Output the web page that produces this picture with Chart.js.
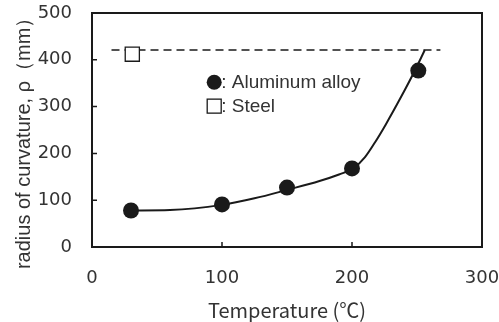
<!DOCTYPE html>
<html>
<head>
<meta charset="utf-8">
<script src="https://cdn.jsdelivr.net/npm/chart.js@4"></script>
<style>
  html, body { margin: 0; padding: 0; background: #fff; }
  #wrap { width: 499px; height: 322px; }
</style>
</head>
<body>
<div id="wrap"><canvas id="chart"></canvas></div>
<script>
// --- data ---
const alloyTemp = [30, 100, 150, 200, 251];
const alloyRadius = [78, 91, 127, 168, 377];

const steelTemp = [31];
const steelRadius = [412];

// hand-drawn fit curve through the alloy points
const curveTemp = [30, 60, 100, 125, 150, 175, 190, 201, 210, 218, 226, 238, 248, 256];
const curveRadius = [78, 79, 90, 104, 122, 141, 155, 168, 192, 225, 262, 322, 375, 421];

// dashed steel level
const steelLineTemp = [15, 268];
const steelLineRadius = [421, 421];

const xTicks = [0, 100, 200, 300];
const yTicks = [0, 100, 200, 300, 400, 500];

const ink = '#1a1a1a';
const textColor = '#333';

const pts = (xs, ys) => xs.map((x, i) => ({ x: x, y: ys[i] }));

// no extra room for overhanging tick labels, the box sits where the layout says
const noPad = (s) => {
  s.paddingLeft = 0; s.paddingRight = 0; s.paddingTop = 0; s.paddingBottom = 0;
};

// frame + inward tick marks + legend text
const framePlugin = {
  id: 'frame',
  afterDraw(chart) {
    const ctx = chart.ctx;
    const a = chart.chartArea;
    const xs = chart.scales.x, ys = chart.scales.y;
    ctx.save();
    ctx.strokeStyle = ink;
    ctx.lineWidth = 2;
    ctx.strokeRect(a.left, a.top, a.right - a.left, a.bottom - a.top);

    ctx.lineWidth = 1.5;
    ctx.beginPath();
    xTicks.slice(1, -1).forEach(v => {
      const px = xs.getPixelForValue(v);
      ctx.moveTo(px, a.bottom);
      ctx.lineTo(px, a.bottom - 5);
    });
    yTicks.slice(1, -1).forEach(v => {
      const py = ys.getPixelForValue(v);
      ctx.moveTo(a.left, py);
      ctx.lineTo(a.left + 5, py);
    });
    ctx.stroke();

    // legend
    const lx = xs.getPixelForValue(94);
    const ly1 = ys.getPixelForValue(352);
    const ly2 = ys.getPixelForValue(301);
    ctx.fillStyle = ink;
    ctx.beginPath();
    ctx.arc(lx, ly1, 7.5, 0, Math.PI * 2);
    ctx.fill();
    ctx.fillStyle = '#fff';
    ctx.lineWidth = 1.3;
    ctx.fillRect(lx - 7, ly2 - 7, 14, 14);
    ctx.strokeRect(lx - 7, ly2 - 7, 14, 14);

    ctx.fillStyle = textColor;
    ctx.font = '19px "Liberation Sans", Arial, sans-serif';
    ctx.textBaseline = 'middle';
    ctx.fillText(': Aluminum alloy', lx + 7, ly1 + 1);
    ctx.fillText(': Steel', lx + 7, ly2 + 1);
    ctx.restore();
  }
};

new Chart(document.getElementById('chart'), {
  type: 'scatter',
  data: {
    datasets: [
      {
        label: 'Aluminum alloy',
        data: pts(alloyTemp, alloyRadius),
        pointRadius: 8,
        pointBackgroundColor: ink,
        pointBorderColor: ink,
        pointBorderWidth: 0,
        showLine: false,
        order: 1
      },
      {
        label: 'Steel',
        data: pts(steelTemp, steelRadius),
        pointStyle: 'rect',
        pointRadius: 10,
        pointBackgroundColor: '#fff',
        pointBorderColor: ink,
        pointBorderWidth: 1.3,
        showLine: false,
        order: 1
      },
      {
        label: 'fit',
        data: pts(curveTemp, curveRadius),
        showLine: true,
        borderColor: ink,
        borderWidth: 2,
        pointRadius: 0,
        cubicInterpolationMode: 'monotone',
        order: 3
      },
      {
        label: 'steel level',
        data: pts(steelLineTemp, steelLineRadius),
        showLine: true,
        borderColor: ink,
        borderWidth: 1.6,
        borderDash: [8, 5],
        pointRadius: 0,
        order: 4
      }
    ]
  },
  options: {
    responsive: true,
    maintainAspectRatio: false,
    animation: false,
    layout: { padding: { left: 0, right: 17, top: 13, bottom: 0 } },
    scales: {
      x: {
        type: 'linear',
        min: 0,
        max: 300,
        afterBuildTicks: (s) => { s.ticks = xTicks.map(v => ({ value: v })); },
        afterFit: (s) => { s.height = 75; noPad(s); },
        grid: { display: false },
        border: { display: false },
        ticks: {
          color: textColor,
          padding: 13,
          font: { family: '"DejaVu Sans", sans-serif', size: 18 }
        },
        title: {
          display: true,
          text: 'Temperature (℃)',
          color: textColor,
          padding: { top: 10, bottom: 0 },
          font: { family: '"Noto Sans CJK JP", sans-serif', size: 20 }
        }
      },
      y: {
        type: 'linear',
        min: 0,
        max: 500,
        afterBuildTicks: (s) => { s.ticks = yTicks.map(v => ({ value: v })); },
        afterFit: (s) => { s.width = 92; noPad(s); },
        grid: { display: false },
        border: { display: false },
        ticks: {
          color: textColor,
          padding: 12,
          font: { family: '"DejaVu Sans", sans-serif', size: 18 }
        },
        title: {
          display: true,
          // trailing spaces nudge the rotated text down a little
          text: 'radius of curvature, ρ（mm）   ',
          color: textColor,
          padding: { top: 12, bottom: 0 },
          font: { family: '"Liberation Sans", Arial, sans-serif', size: 20 }
        }
      }
    },
    plugins: {
      legend: { display: false },
      tooltip: { enabled: false }
    }
  },
  plugins: [framePlugin]
});
</script>
</body>
</html>
